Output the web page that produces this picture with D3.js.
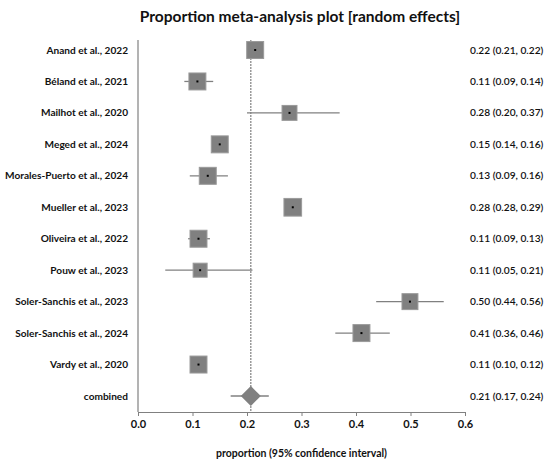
<!DOCTYPE html>
<html>
<head>
<meta charset="utf-8">
<script src="https://cdn.jsdelivr.net/npm/d3@7"></script>
<style>
  body { margin: 0; background: #fff; }
  text { font-family: Lato, "Open Sans", sans-serif; fill: #111; }
</style>
</head>
<body>
<script>
// studies, estimates and 95% CI
var studies = ["Anand et al., 2022", "Béland et al., 2021",
    "Mailhot et al., 2020", "Meged et al., 2024",
    "Morales-Puerto et al., 2024", "Mueller et al., 2023",
    "Oliveira et al., 2022", "Pouw et al., 2023",
    "Soler-Sanchis et al., 2023", "Soler-Sanchis et al., 2024",
    "Vardy et al., 2020"];
var est   = [0.215, 0.109, 0.278, 0.150, 0.128, 0.284, 0.111, 0.114,
    0.499, 0.410, 0.111];
var lower = [0.21, 0.085, 0.20, 0.14, 0.095, 0.28, 0.092, 0.05,
    0.437, 0.362, 0.10];
var upper = [0.22, 0.138, 0.37, 0.16, 0.165, 0.29, 0.132, 0.21,
    0.561, 0.462, 0.12];
var weights = [9.4, 9.4, 7.3, 9.4, 9.4, 10.2, 9.4, 6.4, 8.3, 9.4, 9.4];
var labels = ["0.22 (0.21, 0.22)", "0.11 (0.09, 0.14)",
    "0.28 (0.20, 0.37)", "0.15 (0.14, 0.16)", "0.13 (0.09, 0.16)",
    "0.28 (0.28, 0.29)", "0.11 (0.09, 0.13)", "0.11 (0.05, 0.21)",
    "0.50 (0.44, 0.56)", "0.41 (0.36, 0.46)", "0.11 (0.10, 0.12)"];
var pooled = {name: "combined", est: 0.207, lower: 0.17, upper: 0.24,
    label: "0.21 (0.17, 0.24)"};
var xTicks = [0, 0.1, 0.2, 0.3, 0.4, 0.5, 0.6];

var width = 550, height = 464;
var margin = {left: 138, right: 85, top: 40, bottom: 52};

var svg = d3.select("body").append("svg")
    .attr("width", width)
    .attr("height", height);

var x = d3.scaleLinear().domain([0, 0.6])
    .range([margin.left, width - margin.right]);

var rows = studies.concat([pooled.name]);
var y = d3.scalePoint().domain(rows)
    .range([50, 396]);

var side = d3.scaleSqrt().domain([0, 10]).range([0, 17.5]);

var grey = "#808080";

svg.append("text")
    .attr("x", 300).attr("y", 22)
    .attr("text-anchor", "middle")
    .style("font-size", "15.5px").style("font-weight", "bold")
    .text("Proportion meta-analysis plot [random effects]");

// left frame line
svg.append("line")
    .attr("x1", x(0)).attr("x2", x(0))
    .attr("y1", margin.top).attr("y2", height - margin.bottom)
    .attr("stroke", grey).attr("stroke-width", 1.2);

// pooled estimate reference line
svg.append("line")
    .attr("x1", x(pooled.est)).attr("x2", x(pooled.est))
    .attr("y1", margin.top).attr("y2", height - margin.bottom)
    .attr("stroke", grey).attr("stroke-width", 1.2)
    .attr("stroke-dasharray", "2,1");

// x axis
var xAxis = svg.append("g")
    .attr("transform", "translate(0," + (height - margin.bottom) + ")")
    .call(d3.axisBottom(x).tickValues(xTicks).tickFormat(d3.format(".1f"))
        .tickSize(4).tickPadding(4));
xAxis.selectAll("path, line").attr("stroke", grey);
xAxis.selectAll("text")
    .style("font-size", "11px").style("font-weight", "bold")
    .style("font-family", "Lato, sans-serif").attr("fill", "#111");

svg.append("text")
    .attr("x", (x(0) + x(0.6)) / 2).attr("y", 457)
    .attr("text-anchor", "middle")
    .style("font-size", "10.5px").style("font-weight", "bold")
    .text("proportion (95% confidence interval)");

var data = studies.map(function(s, i) {
    return {name: s, est: est[i], lower: lower[i], upper: upper[i],
        w: weights[i], label: labels[i]};
});

var g = svg.selectAll("g.study").data(data).enter()
    .append("g").attr("class", "study");

g.append("line")
    .attr("x1", function(d) { return x(d.lower); })
    .attr("x2", function(d) { return x(d.upper); })
    .attr("y1", function(d) { return y(d.name); })
    .attr("y2", function(d) { return y(d.name); })
    .attr("stroke", grey).attr("stroke-width", 1.3);

g.append("rect")
    .attr("x", function(d) { return x(d.est) - side(d.w) / 2; })
    .attr("y", function(d) { return y(d.name) - side(d.w) / 2; })
    .attr("width", function(d) { return side(d.w); })
    .attr("height", function(d) { return side(d.w); })
    .attr("fill", grey).attr("stroke", "#9a9a9a").attr("stroke-width", 1);

g.append("rect")
    .attr("x", function(d) { return x(d.est) - 1; })
    .attr("y", function(d) { return y(d.name) - 1; })
    .attr("width", 2).attr("height", 2)
    .attr("fill", "#000");

// combined diamond
var py = y(pooled.name);
svg.append("line")
    .attr("x1", x(pooled.lower)).attr("x2", x(pooled.upper))
    .attr("y1", py).attr("y2", py)
    .attr("stroke", grey).attr("stroke-width", 1.3);
svg.append("path")
    .attr("d", "M" + (x(pooled.est) - 10) + "," + py +
        "L" + x(pooled.est) + "," + (py - 10) +
        "L" + (x(pooled.est) + 10) + "," + py +
        "L" + x(pooled.est) + "," + (py + 10) + "Z")
    .attr("fill", grey);

// study names on the left, estimates on the right
svg.selectAll("text.name").data(rows).enter()
    .append("text").attr("class", "name")
    .attr("x", 128).attr("y", function(d) { return y(d); })
    .attr("dy", "0.35em").attr("text-anchor", "end")
    .style("font-size", "10.1px").style("font-weight", "bold")
    .text(function(d) { return d; });

svg.selectAll("text.est").data(labels.concat([pooled.label])).enter()
    .append("text").attr("class", "est")
    .attr("x", 470).attr("y", function(d, i) { return y(rows[i]); })
    .attr("dy", "0.35em")
    .style("font-size", "10.2px").style("font-weight", "600")
    .text(function(d) { return d; });
</script>
</body>
</html>
